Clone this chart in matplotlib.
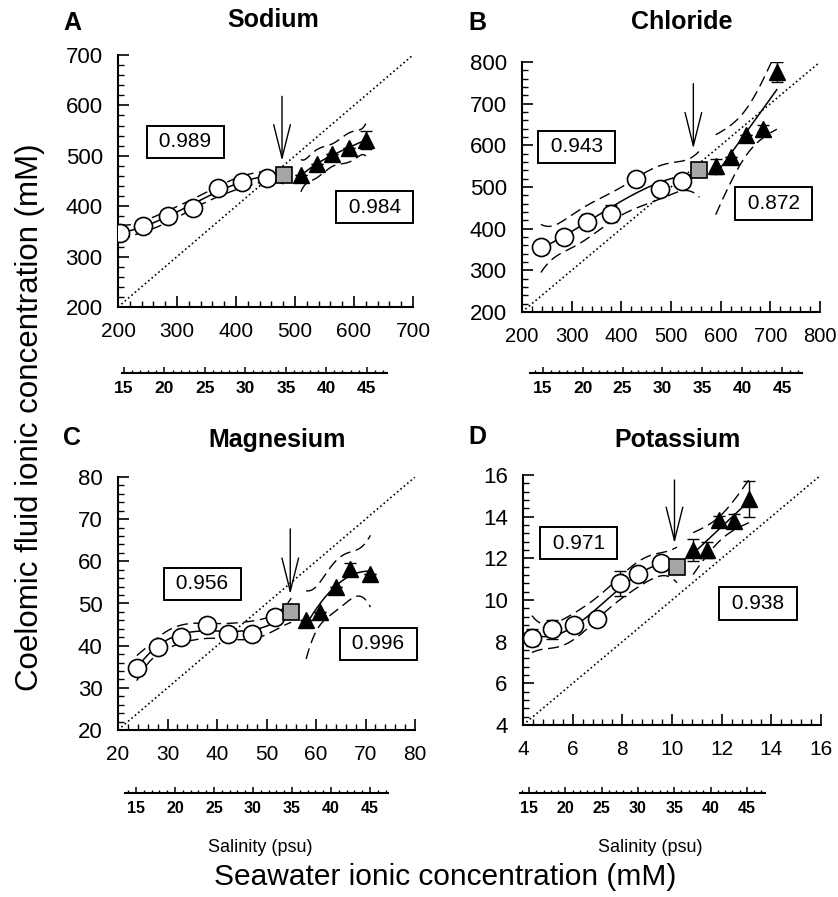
import numpy as np
import matplotlib.pyplot as plt
from matplotlib.ticker import MultipleLocator

plt.rcParams['font.family'] = ['Liberation Sans', 'DejaVu Sans']

W, H = 838, 897

# Sodium (A)
na_circ_x = [203, 243, 285, 327, 369, 411, 453]
na_circ_y = [347, 361, 381, 397, 437, 448, 455]
na_circ_err = [0, 0, 0, 0, 0, 0, 0]
na_sq = (481, 462)
na_tri_x = [510, 537, 563, 591, 620]
na_tri_y = [461, 483, 503, 515, 532]
na_tri_err = [0, 0, 0, 0, 18]
na_r = ['0.989', '0.984']

# Chloride (B)
cl_circ_x = [238, 285, 331, 380, 430, 477, 523]
cl_circ_y = [355, 380, 416, 436, 520, 496, 514]
cl_circ_err = [15, 0, 18, 20, 0, 0, 0]
cl_sq = (557, 540)
cl_tri_x = [590, 620, 652, 685, 713]
cl_tri_y = [550, 572, 624, 640, 776]
cl_tri_err = [18, 0, 0, 8, 25]
cl_r = ['0.943', '0.872']

# Magnesium (C)
mg_circ_x = [23.8, 28, 32.8, 38, 42.2, 47, 51.8]
mg_circ_y = [34.8, 39.8, 42.1, 45.0, 42.8, 42.8, 46.7]
mg_circ_err = [0, 0, 0, 0, 0, 0, 0]
mg_sq = (55, 48)
mg_tri_x = [58, 60.8, 64, 66.8, 71]
mg_tri_y = [46, 48, 54, 58.2, 57]
mg_tri_err = [0, 0, 0, 1.5, 0]
mg_r = ['0.956', '0.996']

# Potassium (D)
k_circ_x = [4.36, 5.17, 6.05, 6.98, 7.9, 8.63, 9.55]
k_circ_y = [8.2, 8.6, 8.8, 9.1, 10.8, 11.25, 11.8]
k_circ_err = [0.4, 0.45, 0, 0, 0.6, 0, 0]
k_sq = (10.2, 11.6)
k_tri_x = [10.85, 11.4, 11.9, 12.5, 13.1]
k_tri_y = [12.4, 12.4, 13.85, 13.8, 14.85]
k_tri_err = [0.55, 0.4, 0.2, 0.35, 0.85]
k_r = ['0.971', '0.938']

salinity_ticks = [15, 20, 25, 30, 35, 40, 45]

T95 = {1: 12.706, 2: 4.303, 3: 3.182, 4: 2.776, 5: 2.571, 6: 2.447}


def fit_band(x, y, deg, n=150):
    # polynomial regression with 95% confidence band
    x = np.asarray(x, float)
    y = np.asarray(y, float)
    xm, xs = x.mean(), x.std()
    X = np.vander((x - xm) / xs, deg + 1)
    beta, *_ = np.linalg.lstsq(X, y, rcond=None)
    dof = len(x) - deg - 1
    s2 = np.sum((y - X @ beta) ** 2) / dof
    cov = np.linalg.inv(X.T @ X) * s2
    xg = np.linspace(x.min(), x.max(), n)
    G = np.vander((xg - xm) / xs, deg + 1)
    yg = G @ beta
    se = np.sqrt(np.einsum('ij,jk,ik->i', G, cov, G))
    return xg, yg, yg - T95[dof] * se, yg + T95[dof] * se


def fx(px):
    return px / W


def fy(py):
    return 1 - py / H


fig = plt.figure(figsize=(W / 100, H / 100), dpi=100)

panels = [
    dict(box=(118, 55, 413, 307), lim=(200, 700), step=100, minor=20, xfs=15,
         cx=na_circ_x, cy=na_circ_y, ce=na_circ_err, sq=na_sq,
         tx=na_tri_x, ty=na_tri_y, te=na_tri_err, deg=(3, 3),
         r=na_r, rpos=[(314, 528), (635, 398)], arrow=(478, 618, 490)),
    dict(box=(522, 62, 820, 312), lim=(200, 800), step=100, minor=20, xfs=14.5,
         cx=cl_circ_x, cy=cl_circ_y, ce=cl_circ_err, sq=cl_sq,
         tx=cl_tri_x, ty=cl_tri_y, te=cl_tri_err, deg=(3, 1),
         r=cl_r, rpos=[(310, 596), (707, 460)], arrow=(545, 748, 592)),
    dict(box=(118, 477, 415, 730), lim=(20, 80), step=10, minor=2, xfs=15,
         cx=mg_circ_x, cy=mg_circ_y, ce=mg_circ_err, sq=mg_sq,
         tx=mg_tri_x, ty=mg_tri_y, te=mg_tri_err, deg=(3, 2),
         r=mg_r, rpos=[(37, 54.7), (72.6, 40.4)], arrow=(54.8, 67.7, 52.2)),
    dict(box=(523, 475, 821, 725), lim=(4, 16), step=2, minor=0.4, xfs=15,
         cx=k_circ_x, cy=k_circ_y, ce=k_circ_err, sq=k_sq,
         tx=k_tri_x, ty=k_tri_y, te=k_tri_err, deg=(3, 1),
         r=k_r, rpos=[(6.25, 12.72), (13.46, 9.84)], arrow=(10.1, 15.76, 12.72)),
]

for p in panels:
    l, t, r, b = p['box']
    ax = fig.add_axes([fx(l), fy(b), (r - l) / W, (b - t) / H])
    lo, hi = p['lim']
    ax.set_xlim(lo, hi)
    ax.set_ylim(lo, hi)
    for s in ('top', 'right'):
        ax.spines[s].set_visible(False)
    for s in ('left', 'bottom'):
        ax.spines[s].set_linewidth(1.5)
    ax.xaxis.set_major_locator(MultipleLocator(p['step']))
    ax.yaxis.set_major_locator(MultipleLocator(p['step']))
    ax.xaxis.set_minor_locator(MultipleLocator(p['minor']))
    ax.yaxis.set_minor_locator(MultipleLocator(p['minor']))
    ax.tick_params(which='major', direction='in', length=8, width=1.2, pad=11)
    ax.tick_params(which='minor', direction='in', length=4, width=1.0)
    ax.tick_params(axis='y', labelsize=16)
    ax.tick_params(axis='x', labelsize=p['xfs'])
    ax.patch.set_visible(False)

    # line of identity
    ax.plot([lo, hi], [lo, hi], ls=':', color='k', lw=1.2, zorder=1)

    g1x = list(p['cx']) + [p['sq'][0]]
    g1y = list(p['cy']) + [p['sq'][1]]
    for gx, gy, deg in ((g1x, g1y, p['deg'][0]), (p['tx'], p['ty'], p['deg'][1])):
        xg, yg, ylo, yhi = fit_band(gx, gy, deg)
        ax.plot(xg, yg, color='k', lw=1.1, zorder=2)
        ax.plot(xg, ylo, color='k', lw=1.0, dashes=(8, 4), zorder=2)
        ax.plot(xg, yhi, color='k', lw=1.0, dashes=(8, 4), zorder=2)

    ax.errorbar(p['cx'], p['cy'], yerr=p['ce'], fmt='none', ecolor='k',
                elinewidth=1, capsize=4, capthick=1, zorder=3)
    ax.errorbar(p['tx'], p['ty'], yerr=p['te'], fmt='none', ecolor='k',
                elinewidth=1, capsize=4, capthick=1, zorder=3)
    ax.plot(p['cx'], p['cy'], 'o', ms=13, mfc='white', mec='k', mew=1.2, zorder=4)
    ax.plot([p['sq'][0]], [p['sq'][1]], 's', ms=11, mfc='#a6a6a6', mec='k', mew=1.2, zorder=4)
    ax.plot(p['tx'], p['ty'], '^', ms=11, mfc='k', mec='k', zorder=4)

    for txt, (x, y) in zip(p['r'], p['rpos']):
        ax.text(x, y, ' ' + txt + ' ', ha='center', va='center', fontsize=15, zorder=5,
                bbox=dict(boxstyle='square,pad=0.32', fc='white', ec='k', lw=1.4))

    axx, y0, y1 = p['arrow']
    ax.annotate('', xy=(axx, y1), xytext=(axx, y0),
                arrowprops=dict(arrowstyle='->,head_length=1.2,head_width=0.3',
                                lw=1.0, color='k', mutation_scale=20,
                                shrinkA=0, shrinkB=0))

# salinity scales under each panel
sal_axes = [
    ((122, 387, 373), (14.75, 47.5), 12.5),
    ((530, 802, 373), (13.4, 47.5), 12.5),
    ((125, 388, 793), (13.6, 47.3), 11.5),
    ((520, 765, 793), (13.76, 47.5), 11.5),
]
for (l, r, yl), xl, fs in sal_axes:
    sa = fig.add_axes([fx(l), fy(yl), (r - l) / W, 0.02])
    sa.set_xlim(*xl)
    sa.set_ylim(0, 1)
    for s in ('left', 'right', 'top'):
        sa.spines[s].set_visible(False)
    sa.spines['bottom'].set_linewidth(1.5)
    sa.patch.set_visible(False)
    sa.set_yticks([])
    sa.set_xticks(salinity_ticks)
    sa.xaxis.set_minor_locator(MultipleLocator(1))
    sa.tick_params(which='major', direction='in', length=4, width=1.1, pad=6)
    sa.tick_params(which='minor', direction='in', length=2.5, width=1.0)
    sa.set_xticklabels([str(v) for v in salinity_ticks], fontsize=fs, fontweight='bold')

# panel letters and titles
for letter, (x, y) in zip('ABCD', [(72, 23), (477, 23), (72, 438), (477, 437)]):
    fig.text(fx(x), fy(y), letter, fontsize=18, fontweight='bold', ha='center', va='center')
for title, (x, y) in zip(['Sodium', 'Chloride', 'Magnesium', 'Potassium'],
                         [(273, 20), (682, 22), (277, 440), (677, 440)]):
    fig.text(fx(x), fy(y), title, fontsize=18, fontweight='bold', ha='center', va='center')

fig.text(fx(260), fy(847), 'Salinity (psu)', fontsize=13, ha='center', va='center')
fig.text(fx(650), fy(847), 'Salinity (psu)', fontsize=13, ha='center', va='center')
fig.text(fx(445), fy(877), 'Seawater ionic concentration (mM)', fontsize=21.5,
         ha='center', va='center')
fig.text(fx(30), fy(417), 'Coelomic fluid ionic concentration (mM)', fontsize=22.5,
         ha='center', va='center', rotation=90)

fig.savefig('out.png', dpi=100)
